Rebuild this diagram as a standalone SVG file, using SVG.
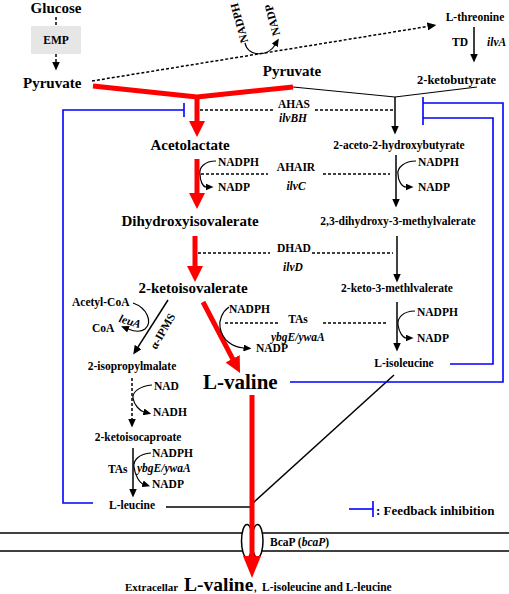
<svg xmlns="http://www.w3.org/2000/svg" width="509" height="594" viewBox="0 0 509 594">
<style>
text{font-family:"Liberation Serif","Times New Roman",serif;font-weight:bold;fill:#000}
.big{font-size:15px}
.sm{font-size:11.5px}
.it{font-style:italic}
.mid{text-anchor:middle}
.red{stroke:#ff0000;stroke-width:5;fill:none}
.blk{stroke:#000;stroke-width:1.5;fill:none}
.thin{stroke:#000;stroke-width:1.2;fill:none}
.dot{stroke:#000;stroke-width:1.5;stroke-dasharray:3 2;fill:none}
.blue{stroke:#0000ff;stroke-width:1.6;fill:none}
</style>
<defs>
<marker id="ab" viewBox="0 0 9 8" markerWidth="9" markerHeight="8" refX="0.5" refY="4" orient="auto" markerUnits="userSpaceOnUse"><path d="M0,0L9,4L0,8z" fill="#000"/></marker>
<marker id="as" viewBox="0 0 8 7" markerWidth="8" markerHeight="7" refX="0.5" refY="3.5" orient="auto" markerUnits="userSpaceOnUse"><path d="M0,0L8,3.5L0,7z" fill="#000"/></marker>
<marker id="ar" viewBox="0 0 16 16" markerWidth="16" markerHeight="16" refX="1" refY="8" orient="auto" markerUnits="userSpaceOnUse"><path d="M0,0L16,8L0,16z" fill="#ff0000"/></marker>
<marker id="ar2" viewBox="0 0 22 18" markerWidth="22" markerHeight="18" refX="1" refY="9" orient="auto" markerUnits="userSpaceOnUse"><path d="M0,0L22,9L0,18z" fill="#ff0000"/></marker>
</defs>
<rect width="509" height="594" fill="#fff"/>

<g id="membrane">
<line x1="0" y1="533" x2="509" y2="533" class="blk"/>
<line x1="0" y1="551" x2="509" y2="551" class="blk"/>
</g>

<g id="connectors">
<line x1="56" y1="17" x2="56" y2="26" class="dot"/>
<line x1="56" y1="54" x2="56" y2="62" class="dot" marker-end="url(#ab)"/>
<line x1="92" y1="81" x2="428" y2="26.4" class="dot" marker-end="url(#ab)"/>
<path d="M245,43 C248,57 268,57 275,45" class="thin" marker-end="url(#as)"/>
<line x1="474" y1="27" x2="474" y2="54" class="blk" marker-end="url(#ab)"/>
<polyline points="293,87 395,97 477,87" class="thin"/>
<polyline points="93,86 197,97 293,87" class="red" stroke-linejoin="miter"/>
<line x1="197" y1="97" x2="197" y2="122" class="red" marker-end="url(#ar)"/>
<line x1="395" y1="97" x2="395" y2="126" class="blk" marker-end="url(#ab)"/>
<line x1="200" y1="110" x2="273" y2="110" class="dot"/>
<line x1="315" y1="110" x2="393" y2="110" class="dot"/>
<line x1="197" y1="159" x2="197" y2="194" class="red" marker-end="url(#ar)"/>
<path d="M216,161 C204,161 199,168 200,174 C200,181 203,187 206,187" class="thin" marker-end="url(#as)"/>
<line x1="396" y1="155" x2="396" y2="199" class="blk" marker-end="url(#ab)"/>
<path d="M416,161 C404,161 397,168 398,174 C398,181 402,187 406,187" class="thin" marker-end="url(#as)"/>
<line x1="201" y1="174" x2="268" y2="174" class="dot"/>
<line x1="323" y1="174" x2="390" y2="174" class="dot"/>
<line x1="195" y1="236" x2="195" y2="267" class="red" marker-end="url(#ar)"/>
<line x1="397" y1="236" x2="397" y2="274" class="blk" marker-end="url(#ab)"/>
<line x1="198" y1="253" x2="270" y2="253" class="dot"/>
<line x1="312" y1="253" x2="393" y2="253" class="dot"/>
<line x1="203" y1="302" x2="233.1" y2="359.7" class="red" marker-end="url(#ar)"/>
<path d="M229,307 C222,312 219,320 220,327 C222,340 232,347 244,348" class="thin" marker-end="url(#as)"/>
<line x1="225" y1="323" x2="278" y2="323" class="dot"/>
<line x1="323" y1="323" x2="387" y2="323" class="dot"/>
<line x1="397" y1="302" x2="397" y2="343" class="blk" marker-end="url(#ab)"/>
<path d="M415,311 C403,311 397,318 398,325 C399,332 403,338 406,338" class="thin" marker-end="url(#as)"/>
<line x1="168" y1="300" x2="137.8" y2="347.4" class="blk" marker-end="url(#ab)"/>
<path d="M133,303 C147,308 153,322 145,329 C140,333 133,331 128,329" class="thin" marker-end="url(#as)"/>
<line x1="132" y1="378" x2="132" y2="419" class="dot" marker-end="url(#ab)"/>
<path d="M152,385 C140,386 132,392 133,398 C134,405 140,411 144,412" class="thin" marker-end="url(#as)"/>
<line x1="133" y1="448" x2="133" y2="489" class="blk" marker-end="url(#ab)"/>
<path d="M151,453 C139,454 133,460 134,467 C135,476 140,483 143,484" class="thin" marker-end="url(#as)"/>
<line x1="166" y1="507" x2="252" y2="507" class="blk"/>
<line x1="394" y1="375" x2="253" y2="503" class="blk"/>
<polyline points="93,503 63,503 63,110 184,110" class="blue"/>
<line x1="184" y1="103" x2="184" y2="117" class="blue"/>
<polyline points="290,382 503,382 503,103 423,103" class="blue"/>
<polyline points="450,364 493,364 493,118 423,118" class="blue"/>
<line x1="423" y1="97" x2="423" y2="125" class="blue"/>
</g>

<g id="transporter">
<ellipse cx="247" cy="541" rx="5.5" ry="16.5" fill="#fff" stroke="#000" stroke-width="1.5"/>
<ellipse cx="257.5" cy="541" rx="5.5" ry="16.5" fill="#fff" stroke="#000" stroke-width="1.5"/>
<text x="270" y="546" class="sm">BcaP (<tspan class="it">bcaP</tspan>)</text>
</g>
<g id="valine-export">
<line x1="252" y1="395" x2="252" y2="557" class="red" marker-end="url(#ar2)"/>
</g>

<g id="glucose"><text x="56" y="13" class="big mid">Glucose</text></g>
<g id="emp"><rect x="31" y="26" width="50" height="28" fill="#e6e6e6"/><text x="56" y="44" class="sm mid">EMP</text></g>
<g id="pyruvate1"><text x="23" y="88" class="big">Pyruvate</text></g>
<g id="pyruvate2"><text x="292" y="76" class="big mid">Pyruvate</text></g>
<g id="cof-top">
<text transform="translate(243,22) rotate(-105)" class="sm mid">NADPH</text>
<text transform="translate(276,19) rotate(-105)" class="sm mid">NADP</text>
</g>
<g id="threonine"><text x="475" y="21" class="sm mid">L-threonine</text></g>
<g id="td"><text x="452" y="46" class="sm">TD</text><text x="487" y="46" class="sm it">ilvA</text></g>
<g id="ketobutyrate"><text x="417" y="84" class="sm" style="font-size:12.5px">2-ketobutyrate</text></g>
<g id="ahas"><text x="294" y="108" class="sm mid">AHAS</text><text x="293" y="122" class="sm mid it">ilvBH</text></g>
<g id="acetolactate"><text x="190" y="150" class="big mid">Acetolactate</text></g>
<g id="aceto-hb"><text x="399" y="149" class="sm mid">2-aceto-2-hydroxybutyrate</text></g>
<g id="ahair">
<text x="218" y="166" class="sm">NADPH</text><text x="218" y="191" class="sm">NADP</text>
<text x="296" y="171" class="sm mid">AHAIR</text><text x="296" y="190" class="sm mid it">ilvC</text>
<text x="418" y="166" class="sm">NADPH</text><text x="418" y="191" class="sm">NADP</text>
</g>
<g id="dihydroxyisovalerate"><text x="190" y="226" class="big mid">Dihydroxyisovalerate</text></g>
<g id="dhmv"><text x="398" y="225" class="sm mid">2,3-dihydroxy-3-methylvalerate</text></g>
<g id="dhad"><text x="294" y="252" class="sm mid">DHAD</text><text x="293" y="271" class="sm mid it">ilvD</text></g>
<g id="ketoisovalerate"><text x="193" y="293" class="big mid">2-ketoisovalerate</text></g>
<g id="ketomethylvalerate"><text x="397" y="292" class="sm mid">2-keto-3-methlvalerate</text></g>
<g id="tas-mid">
<text x="229" y="313" class="sm">NADPH</text>
<text x="298" y="323" class="sm mid">TAs</text>
<text x="271" y="341" class="sm it">ybgE/ywaA</text>
<text x="256" y="352" class="sm">NADP</text>
<text x="417" y="316" class="sm">NADPH</text><text x="417" y="342" class="sm">NADP</text>
</g>
<g id="valine"><text x="203" y="389" style="font-size:21px">L-valine</text></g>
<g id="isoleucine"><text x="404" y="367" class="sm mid">L-isoleucine</text></g>
<g id="leua">
<text x="72" y="306" class="sm">Acetyl-CoA</text>
<text x="92" y="332" class="sm">CoA</text>
<text transform="translate(129,325) rotate(17)" class="sm mid it">leuA</text>
<text transform="translate(166,333) rotate(-60)" class="sm mid">α-IPMS</text>
</g>
<g id="isopropylmalate"><text x="132" y="370" class="sm mid">2-isopropylmalate</text></g>
<g id="nad"><text x="154" y="390" class="sm">NAD</text><text x="153" y="416" class="sm">NADH</text></g>
<g id="ketoisocaproate"><text x="138" y="441" class="sm mid">2-ketoisocaproate</text></g>
<g id="tas-leu">
<text x="152" y="457" class="sm">NADPH</text>
<text x="108" y="473" class="sm">TAs</text>
<text x="137" y="472" class="sm it">ybgE/ywaA</text>
<text x="152" y="488" class="sm">NADP</text>
</g>
<g id="leucine"><text x="132" y="509" class="sm mid">L-leucine</text></g>
<g id="legend">
<line x1="349" y1="509" x2="373" y2="509" class="blue"/>
<line x1="373" y1="501" x2="373" y2="517" class="blue"/>
<text x="376" y="515" style="font-size:13px">: Feedback inhibition</text>
</g>
<g id="extracellular">
<text y="591"><tspan x="125" style="font-size:11px">Extracellar</tspan><tspan x="184" style="font-size:19.5px">L-valine</tspan><tspan x="253" style="font-size:8px;font-family:'Liberation Serif','Noto Sans CJK SC',serif">，</tspan><tspan x="262" style="font-size:11.5px">L-isoleucine and L-leucine</tspan></text>
</g>
</svg>
